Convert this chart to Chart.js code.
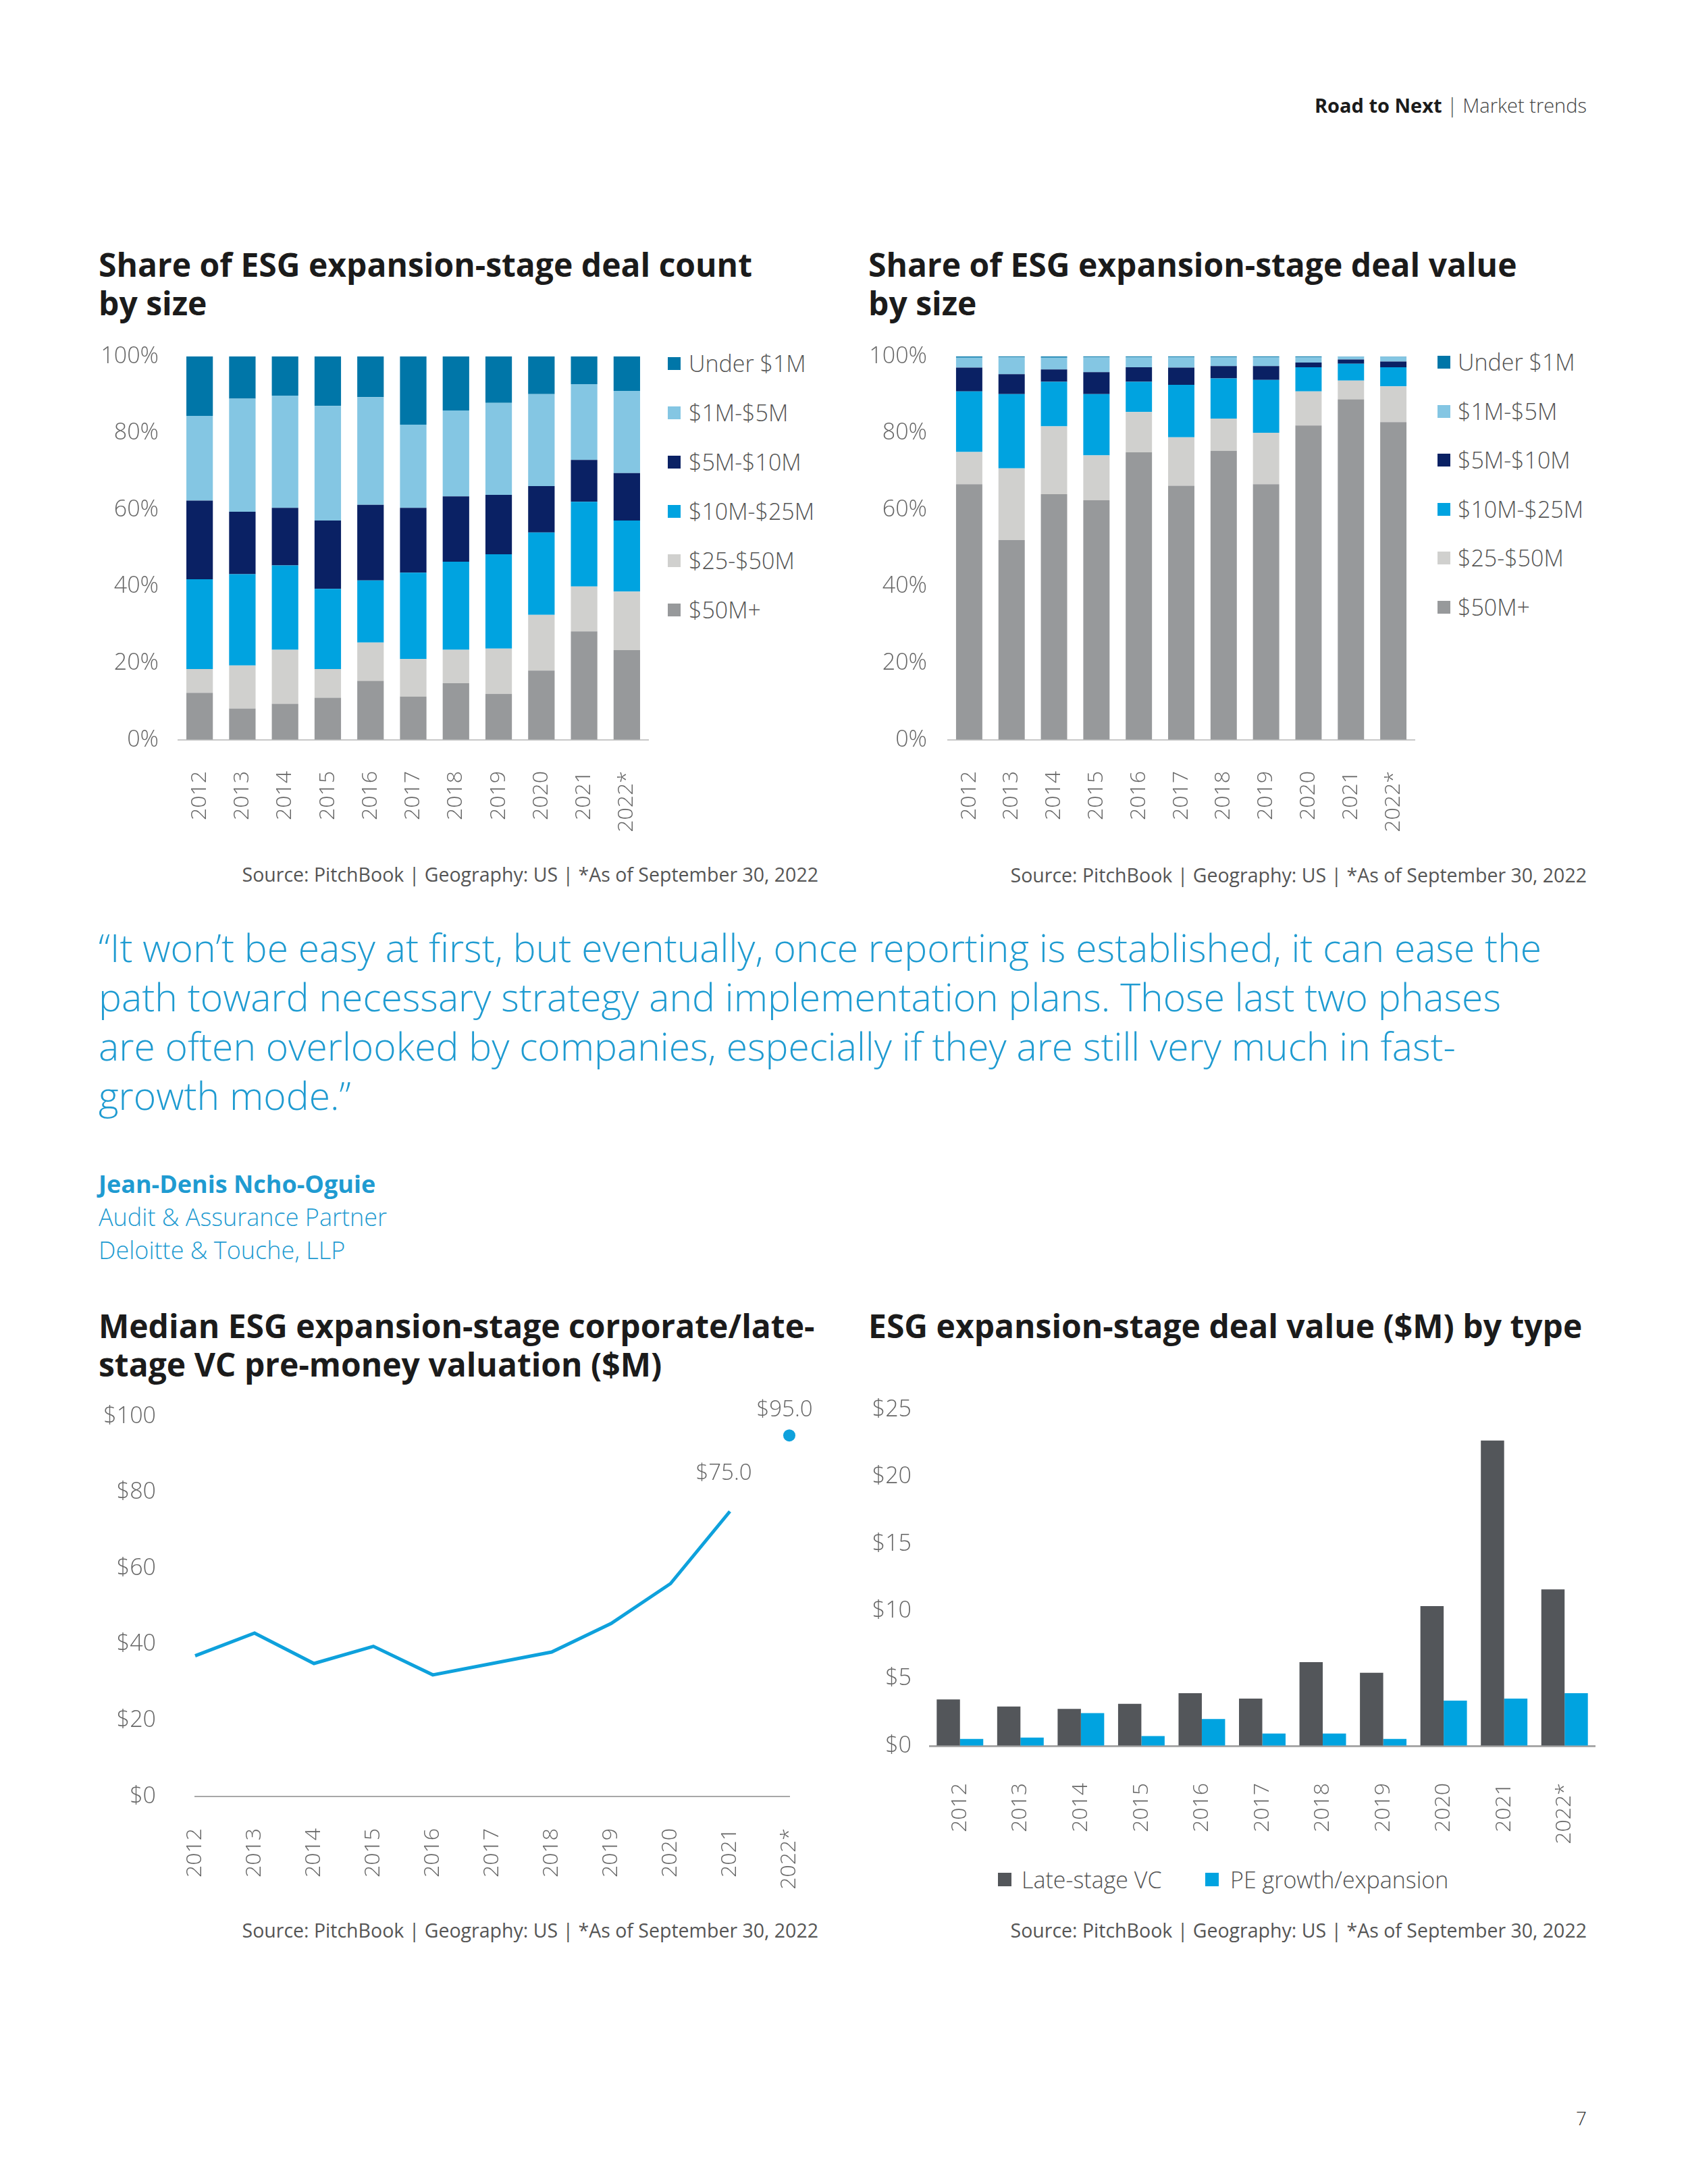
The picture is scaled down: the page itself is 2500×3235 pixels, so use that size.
<!DOCTYPE html>
<html>
<head>
<meta charset="utf-8">
<script src="https://cdn.jsdelivr.net/npm/chart.js@4.4.0/dist/chart.umd.min.js"></script>
<style>
  body { margin: 0; width: 2500px; height: 3235px; background: #fff; position: relative; overflow: hidden;
         font-family: "Open Sans", sans-serif; color: #1b1b1b; }
  .abs { position: absolute; }
  .header { right: 150px; top: 136px; font-size: 29px; line-height: 40px; color: #444; font-weight: 300; white-space: nowrap; }
  .header b { color: #1b1b1b; font-weight: 700; }
  .title { font-size: 48px; line-height: 57px; font-weight: 700; color: #1b1b1b; white-space: nowrap; }
  .source { font-size: 28.5px; line-height: 40px; color: #555; font-weight: 400; white-space: nowrap; text-align: right; }
  .quote { left: 146px; top: 1367px; font-size: 57px; line-height: 73px; color: #1f9bd1; font-weight: 300; white-space: nowrap; }
  .who { left: 146px; top: 1729px; font-size: 36px; line-height: 49px; color: #1f9bd1; font-weight: 300; white-space: nowrap; }
  .who b { font-weight: 700; }
  .box { position: absolute; }
  .leg { position: absolute; font-size: 34px; line-height: 40px; color: #555; font-weight: 300; white-space: nowrap; }
  .sw { position: absolute; width: 19px; height: 19px; }
  .page { right: 150px; top: 3117px; font-size: 28px; line-height: 40px; color: #333; font-weight: 300; }
</style>
</head>
<body>

<div class="abs header"><b>Road to Next</b> | Market trends</div>

<div class="abs title" style="left:146px; top:363px;">Share of ESG expansion-stage deal count<br>by size</div>
<div class="abs title" style="left:1286px; top:363px;">Share of ESG expansion-stage deal value<br>by size</div>

<div class="box" style="left:140px; top:490px; width:840px; height:780px;"><canvas id="countChart"></canvas></div>
<div class="box" style="left:1280px; top:490px; width:835px; height:780px;"><canvas id="valueChart"></canvas></div>
<div id="countLegend"></div>
<div id="valueLegend"></div>

<div class="abs source" style="right:1288px; top:1275px;">Source: PitchBook | Geography: US | *As of September 30, 2022</div>
<div class="abs source" style="right:150px; top:1276px;">Source: PitchBook | Geography: US | *As of September 30, 2022</div>

<div class="abs quote">“It won’t be easy at first, but eventually, once reporting is established, it can ease the<br>path toward necessary strategy and implementation plans. Those last two phases<br>are often overlooked by companies, especially if they are still very much in fast-<br>growth mode.”</div>

<div class="abs who"><b>Jean-Denis Ncho-Oguie</b><br>Audit &amp; Assurance Partner<br>Deloitte &amp; Touche, LLP</div>

<div class="abs title" style="left:146px; top:1935px;">Median ESG expansion-stage corporate/late-<br>stage VC pre-money valuation ($M)</div>
<div class="abs title" style="left:1286px; top:1935px;">ESG expansion-stage deal value ($M) by type</div>

<div class="box" style="left:140px; top:2050px; width:1080px; height:785px;"><canvas id="valuationChart"></canvas></div>
<div class="box" style="left:1270px; top:2040px; width:1110px; height:716px;"><canvas id="typeChart"></canvas></div>
<div id="typeLegend"></div>

<div class="abs source" style="right:1288px; top:2839px;">Source: PitchBook | Geography: US | *As of September 30, 2022</div>
<div class="abs source" style="right:150px; top:2839px;">Source: PitchBook | Geography: US | *As of September 30, 2022</div>

<div class="abs page">7</div>

<script>
// ---- data ----
const years = ['2012', '2013', '2014', '2015', '2016', '2017', '2018', '2019', '2020', '2021', '2022*'];

// size bands, bottom of the stack first
const sizeBands = ['$50M+', '$25-$50M', '$10M-$25M', '$5M-$10M', '$1M-$5M', 'Under $1M'];
const sizeColors = ['#97999b', '#d0d0ce', '#00a3e0', '#0a2164', '#84c6e3', '#0076a8'];

// share of deal count (%)
const countFiftyPlus = [12.3, 8.2, 9.4, 11.0, 15.4, 11.3, 14.8, 12.0, 18.1, 28.3, 23.4];
const count25to50 = [6.2, 11.2, 14.1, 7.5, 10.0, 9.8, 8.7, 11.8, 14.5, 11.7, 15.3];
const count10to25 = [23.4, 23.8, 22.0, 20.9, 16.2, 22.5, 23.0, 24.6, 21.5, 22.1, 18.5];
const count5to10 = [20.5, 16.3, 15.0, 17.8, 19.7, 16.9, 17.0, 15.5, 12.1, 10.9, 12.4];
const count1to5 = [22.1, 29.5, 29.3, 29.9, 28.1, 21.7, 22.4, 24.0, 24.0, 19.8, 21.4];
const countUnder1 = [15.5, 11.0, 10.2, 12.9, 10.6, 17.8, 14.1, 12.1, 9.8, 7.2, 9.0];

// share of deal value (%)
const valueFiftyPlus = [66.7, 52.1, 64.1, 62.5, 75.0, 66.3, 75.4, 66.7, 82.0, 88.8, 82.9];
const value25to50 = [8.4, 18.7, 17.7, 11.7, 10.5, 12.6, 8.4, 13.4, 8.9, 4.9, 9.3];
const value10to25 = [15.8, 19.4, 11.6, 16.0, 7.9, 13.7, 10.5, 13.8, 6.3, 4.4, 5.0];
const value5to10 = [6.2, 5.2, 3.2, 5.7, 3.8, 4.5, 3.2, 3.6, 1.2, 1.1, 1.5];
const value1to5 = [2.6, 4.4, 3.1, 3.9, 2.6, 2.7, 2.3, 2.3, 1.4, 0.7, 1.2];
const valueUnder1 = [0.3, 0.2, 0.3, 0.2, 0.2, 0.2, 0.2, 0.2, 0.2, 0.1, 0.1];

// median pre-money valuation ($M), last one is the 2022* point
const valuation = [37, 43, 35, 39.5, 32, 35, 38, 45.5, 56, 75, 95];

// deal value by type ($M)
const lateStageVC = [3.45, 2.93, 2.75, 3.12, 3.91, 3.51, 6.23, 5.44, 10.39, 22.7, 11.64];
const peGrowth = [0.52, 0.61, 2.44, 0.73, 1.99, 0.92, 0.92, 0.52, 3.36, 3.51, 3.91];

const percentTicks = [0, 20, 40, 60, 80, 100];
const dollarTicksValuation = [0, 20, 40, 60, 80, 100];
const dollarTicksType = [0, 5, 10, 15, 20, 25];

// ---- styling ----
const tickColor = '#666';
const xTickFont = { family: "'Open Sans', sans-serif", size: 32, weight: 300 };
const yTickFont = { family: "'Open Sans', sans-serif", size: 34, weight: 300 };
const lineBlue = '#0ea1dc';

Chart.defaults.font.family = "'Open Sans', sans-serif";
Chart.defaults.color = tickColor;

// invisible tick marks give the label gap without padding the chart area
function gapGrid(len) {
    return { display: true, drawOnChartArea: false, drawTicks: true, tickLength: len, tickColor: 'rgba(0,0,0,0)' };
}

function stackedConfig(series, yGap) {
    return {
        type: 'bar',
        data: {
            labels: years,
            datasets: sizeBands.map((name, i) => ({
                label: name,
                data: series[i],
                backgroundColor: sizeColors[i],
                borderWidth: 0,
                barPercentage: 1,
                categoryPercentage: 0.62
            }))
        },
        options: {
            responsive: true,
            maintainAspectRatio: false,
            animation: false,
            devicePixelRatio: 1,
            layout: { padding: { top: 38, right: 20, left: 0, bottom: 0 } },
            plugins: { legend: { display: false }, tooltip: { enabled: false } },
            scales: {
                x: {
                    stacked: true,
                    grid: gapGrid(46),
                    border: { display: true, color: '#c8c8c8', width: 2 },
                    ticks: { minRotation: 90, maxRotation: 90, autoSkip: false, padding: 0, font: xTickFont, color: tickColor },
                    afterFit(s) { s.height = 174; }
                },
                y: {
                    stacked: true,
                    min: 0,
                    max: 100,
                    grid: gapGrid(yGap),
                    border: { display: false },
                    afterBuildTicks(s) { s.ticks = percentTicks.map(v => ({ value: v })); },
                    ticks: { padding: 0, font: yTickFont, color: tickColor, callback: v => v + '%' },
                    afterFit(s) { s.width = 124; }
                }
            }
        }
    };
}

function htmlLegend(el, names, colors, left, textLeft, top, step) {
    // top-to-bottom order is the reverse of the stack
    let html = '';
    for (let k = 0; k < names.length; k++) {
        const i = names.length - 1 - k;
        const cy = top + k * step;
        html += '<div class="sw" style="left:' + left + 'px; top:' + (cy - 9) + 'px; background:' + colors[i] + '"></div>';
        html += '<div class="leg" style="left:' + textLeft + 'px; top:' + (cy - 20) + 'px;">' + names[i] + '</div>';
    }
    el.innerHTML = html;
}

new Chart(document.getElementById('countChart'),
    stackedConfig([countFiftyPlus, count25to50, count10to25, count5to10, count1to5, countUnder1], 29));
new Chart(document.getElementById('valueChart'),
    stackedConfig([valueFiftyPlus, value25to50, value10to25, value5to10, value1to5, valueUnder1], 31));

htmlLegend(document.getElementById('countLegend'), sizeBands, sizeColors, 989, 1020, 538, 73);
htmlLegend(document.getElementById('valueLegend'), sizeBands, sizeColors, 2129, 2159, 536, 72.6);

// ---- valuation line ----
const lastIdx = valuation.length - 1;
const labelledPoints = [{ index: 9, dx: -9, dy: -56 }, { index: 10, dx: -7, dy: -38 }];

const pointLabels = {
    id: 'pointLabels',
    afterDatasetsDraw(chart) {
        const ctx = chart.ctx;
        ctx.save();
        ctx.font = '300 33px "Open Sans", sans-serif';
        ctx.fillStyle = tickColor;
        ctx.textAlign = 'center';
        ctx.textBaseline = 'middle';
        labelledPoints.forEach(p => {
            const x = chart.scales.x.getPixelForValue(p.index);
            const y = chart.scales.y.getPixelForValue(valuation[p.index]);
            ctx.fillText('$' + valuation[p.index].toFixed(1), x + p.dx, y + p.dy);
        });
        ctx.restore();
    }
};

new Chart(document.getElementById('valuationChart'), {
    type: 'line',
    data: {
        labels: years,
        datasets: [{
            data: valuation.map((v, i) => i < lastIdx ? v : null),
            borderColor: lineBlue,
            borderWidth: 5,
            pointRadius: 0,
            tension: 0,
            fill: false
        }, {
            data: valuation.map((v, i) => i === lastIdx ? v : null),
            showLine: false,
            pointRadius: 9,
            pointBackgroundColor: lineBlue,
            pointBorderWidth: 0
        }]
    },
    options: {
        responsive: true,
        maintainAspectRatio: false,
        animation: false,
        devicePixelRatio: 1,
        layout: { padding: { top: 48, right: 51, left: 0, bottom: 0 } },
        plugins: { legend: { display: false }, tooltip: { enabled: false } },
        scales: {
            x: {
                offset: false,
                grid: gapGrid(47),
                border: { display: true, color: '#a8a8a8', width: 2 },
                ticks: { minRotation: 90, maxRotation: 90, autoSkip: false, padding: 0, font: xTickFont, color: tickColor },
                afterFit(s) { s.height = 174; }
            },
            y: {
                min: 0,
                max: 100,
                grid: gapGrid(58),
                border: { display: false },
                afterBuildTicks(s) { s.ticks = dollarTicksValuation.map(v => ({ value: v })); },
                ticks: { padding: 0, font: yTickFont, color: tickColor, callback: v => '$' + v },
                afterFit(s) { s.width = 149; }
            }
        }
    },
    plugins: [pointLabels]
});

// ---- deal value by type ----
const typeNames = ['Late-stage VC', 'PE growth/expansion'];
const typeColors = ['#53565a', '#00a3e0'];

new Chart(document.getElementById('typeChart'), {
    type: 'bar',
    data: {
        labels: years,
        datasets: [lateStageVC, peGrowth].map((d, i) => ({
            label: typeNames[i],
            data: d,
            backgroundColor: typeColors[i],
            borderWidth: 0,
            barPercentage: 1,
            categoryPercentage: 0.77
        }))
    },
    options: {
        responsive: true,
        maintainAspectRatio: false,
        animation: false,
        devicePixelRatio: 1,
        layout: { padding: { top: 48, right: 18, left: 0, bottom: 0 } },
        plugins: { legend: { display: false }, tooltip: { enabled: false } },
        scales: {
            x: {
                grid: gapGrid(55),
                border: { display: true, color: '#a8a8a8', width: 3 },
                ticks: { minRotation: 90, maxRotation: 90, autoSkip: false, padding: 0, font: xTickFont, color: tickColor },
                afterFit(s) { s.height = 170; }
            },
            y: {
                min: 0,
                max: 25,
                grid: gapGrid(27),
                border: { display: false },
                afterBuildTicks(s) { s.ticks = dollarTicksType.map(v => ({ value: v })); },
                ticks: { padding: 0, font: yTickFont, color: tickColor, callback: v => '$' + v },
                afterFit(s) { s.width = 107; }
            }
        }
    }
});

(function () {
    const el = document.getElementById('typeLegend');
    const sw = [1478, 1785];
    const tx = [1513, 1822];
    let html = '';
    typeNames.forEach((n, i) => {
        html += '<div class="sw" style="left:' + sw[i] + 'px; top:2774px; width:20px; height:20px; background:' + typeColors[i] + '"></div>';
        html += '<div class="leg" style="left:' + tx[i] + 'px; top:2764px;">' + n + '</div>';
    });
    el.innerHTML = html;
})();
</script>
</body>
</html>
